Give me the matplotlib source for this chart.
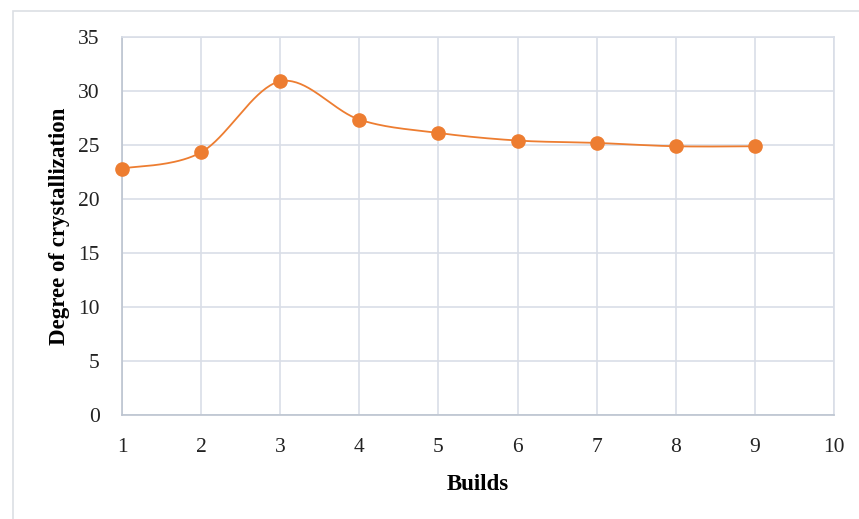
import numpy as np
import matplotlib
matplotlib.use("Agg")
import matplotlib.pyplot as plt
from matplotlib.patches import Rectangle

builds = [1, 2, 3, 4, 5, 6, 7, 8, 9]
crystallization = [22.83, 24.33, 30.9, 27.36, 26.12, 25.42, 25.2, 24.89, 24.89]
x_ticks = [1, 2, 3, 4, 5, 6, 7, 8, 9, 10]
y_ticks = [0, 5, 10, 15, 20, 25, 30, 35]

ORANGE = "#ED7D31"
GRID = "#D9DEE7"
AXIS = "#BCC4D0"
FONT = "Liberation Serif"


def smooth_curve(xs, ys, n=40):
    """Cubic Bezier smoothing through every point (spreadsheet-style smoothed line)."""
    pts = np.column_stack([xs, ys]).astype(float)
    out = []
    m = len(pts)
    for i in range(m - 1):
        p0 = pts[i - 1] if i > 0 else pts[i]
        p1 = pts[i]
        p2 = pts[i + 1]
        p3 = pts[i + 2] if i + 2 < m else pts[i + 1]
        c1 = p1 + (p2 - p0) / 6.0
        c2 = p2 - (p3 - p1) / 6.0
        t = np.linspace(0, 1, n)[:, None]
        seg = ((1 - t) ** 3) * p1 + 3 * ((1 - t) ** 2) * t * c1 + 3 * (1 - t) * t ** 2 * c2 + t ** 3 * p2
        out.append(seg if i == 0 else seg[1:])
    out = np.vstack(out)
    return out[:, 0], out[:, 1]


W, H = 859, 519
fig = plt.figure(figsize=(W / 100, H / 100), dpi=100)
fig.patch.set_facecolor("white")

# light outer chart frame
fig.patches.append(Rectangle((13 / W, -0.2), 1.2, 1.2 - 11 / H,
                             transform=fig.transFigure, fill=False,
                             edgecolor="#DCDFE4", linewidth=1.2))

ax = fig.add_axes([122 / W, 1 - 415.3 / H, (834 - 122) / W, (415.3 - 37) / H])
ax.set_xlim(1, 10)
ax.set_ylim(0, 35)
ax.set_xticks(x_ticks)
ax.set_yticks(y_ticks)
ax.grid(True, color=GRID, linewidth=1.2)
ax.set_axisbelow(True)

for side in ["top", "right"]:
    ax.spines[side].set_color(GRID)
    ax.spines[side].set_linewidth(1.2)
for side in ["left", "bottom"]:
    ax.spines[side].set_color(AXIS)
    ax.spines[side].set_linewidth(1.2)

ax.tick_params(axis="both", length=0, labelsize=15.5, colors="#222222")
ax.tick_params(axis="y", pad=16)
ax.tick_params(axis="x", pad=16)
for lab in ax.get_xticklabels() + ax.get_yticklabels():
    lab.set_fontfamily(FONT)

sx, sy = smooth_curve(builds, crystallization)
ax.plot(sx, sy, color=ORANGE, linewidth=1.3, zorder=3, clip_on=False)
ax.plot(builds, crystallization, linestyle="none", marker="o", markersize=9.5,
        color=ORANGE, markeredgecolor=ORANGE, zorder=4, clip_on=False)

ax.set_xlabel("Builds", fontfamily=FONT, fontweight="bold", fontsize=16.5)
ax.set_ylabel("Degree of crystallization", fontfamily=FONT, fontweight="bold", fontsize=16.5)
ax.xaxis.set_label_coords(0.5, -0.155)
ax.yaxis.set_label_coords(-0.073, 0.5)

fig.savefig("out.png", dpi=100, facecolor="white")
